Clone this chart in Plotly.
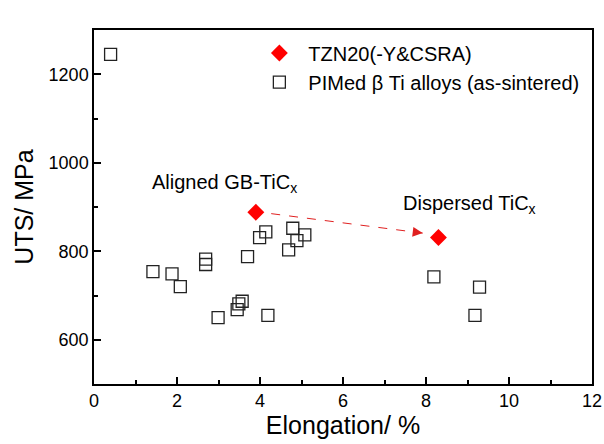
import plotly.graph_objects as go

# Data
tzn_elong = [3.9, 8.3]
tzn_uts = [888, 831]

pim_elong = [0.4, 1.42, 1.88, 2.08, 2.69, 2.69, 2.99, 3.45, 3.49, 3.57, 3.70,
             3.99, 4.14, 4.19, 4.69, 4.79, 4.89, 5.08, 8.19, 9.18, 9.29]
pim_uts = [1245, 754, 749, 720, 782, 770, 650, 668, 681, 687, 788,
           831, 844, 655, 803, 852, 824, 837, 742, 655, 719]

arrow_x = [4.27, 7.92]
arrow_y = [885, 841]

x_ticks = [0, 2, 4, 6, 8, 10, 12]
y_ticks = [600, 800, 1000, 1200]

FONT = "Liberation Sans, Arial, sans-serif"

fig = go.Figure()
fig.add_trace(go.Scatter(
    x=tzn_elong, y=tzn_uts, mode="markers", name="TZN20(-Y&CSRA)",
    marker=dict(symbol="diamond", size=13, color="#ff0000", line=dict(width=0)),
))
fig.add_trace(go.Scatter(
    x=pim_elong, y=pim_uts, mode="markers", name="PIMed β Ti alloys (as-sintered)",
    marker=dict(symbol="square-open", size=12, color="#222222", line=dict(width=1.3)),
))

# dashed arrow
fig.add_shape(type="line", x0=arrow_x[0], y0=arrow_y[0], x1=arrow_x[1], y1=arrow_y[1],
              xref="x", yref="y", line=dict(color="#e02020", width=1, dash="dash"))
fig.add_annotation(x=arrow_x[1], y=arrow_y[1], ax=-8, ay=-1, xref="x", yref="y",
                   showarrow=True, arrowhead=2, arrowsize=2, arrowwidth=1,
                   arrowcolor="#e02020", text="", standoff=0)

fig.add_annotation(x=3.14, y=953, xref="x", yref="y", showarrow=False,
                   text="Aligned GB-TiC<sub>x</sub>", font=dict(size=20, color="black", family=FONT))
fig.add_annotation(x=9.05, y=906, xref="x", yref="y", showarrow=False,
                   text="Dispersed TiC<sub>x</sub>", font=dict(size=20, color="black", family=FONT))

axis_common = dict(
    showline=True, linecolor="black", linewidth=1.5, mirror=True,
    ticks="inside", ticklen=7, tickwidth=1.5, tickcolor="black",
    showgrid=False, zeroline=False,
    tickfont=dict(size=18, color="black", family=FONT),
)

fig.update_xaxes(range=[0, 12], tickvals=x_ticks,
                 minor=dict(dtick=1, ticks="inside", ticklen=4, tickwidth=1.5, tickcolor="black", showgrid=False),
                 title=dict(text="Elongation/ %", font=dict(size=25, color="black", family=FONT), standoff=4),
                 **axis_common)
fig.update_yaxes(range=[500, 1300], tickvals=y_ticks,
                 minor=dict(dtick=100, ticks="inside", ticklen=4, tickwidth=1.5, tickcolor="black", showgrid=False),
                 title=dict(text="UTS/ MPa", font=dict(size=25, color="black", family=FONT), standoff=8),
                 **axis_common)

fig.update_layout(
    width=604, height=444,
    margin=dict(l=94, r=12, t=30, b=60, autoexpand=False),
    paper_bgcolor="white", plot_bgcolor="white",
    font=dict(family=FONT, color="black"),
    legend=dict(x=0.314, y=0.99, xanchor="left", yanchor="top",
                bgcolor="rgba(0,0,0,0)", borderwidth=0,
                itemwidth=48, tracegroupgap=0,
                font=dict(size=20, family=FONT, color="black")),
    showlegend=True,
)

fig.write_html("out.html", config={"displayModeBar": False},
               post_script="document.body.style.margin='0';document.body.style.padding='0';")
